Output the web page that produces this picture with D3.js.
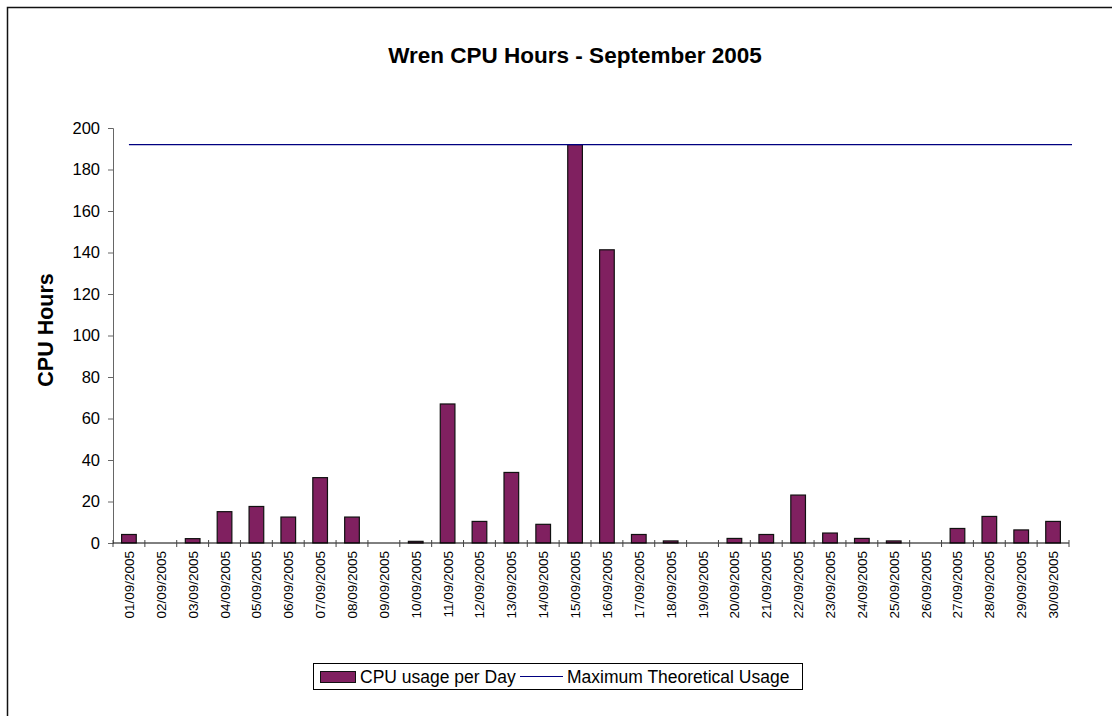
<!DOCTYPE html>
<html>
<head>
<meta charset="utf-8">
<script src="https://cdn.jsdelivr.net/npm/d3@7"></script>
<style>
	body { margin: 0; background: #fff; }
	svg { display: block; font-family: "Liberation Sans", Arial, sans-serif; }
</style>
</head>
<body>
<svg id="chart" width="1112" height="716"></svg>
<script>
// daily values
const days = ["01/09/2005","02/09/2005","03/09/2005","04/09/2005","05/09/2005","06/09/2005",
	"07/09/2005","08/09/2005","09/09/2005","10/09/2005","11/09/2005","12/09/2005",
	"13/09/2005","14/09/2005","15/09/2005","16/09/2005","17/09/2005","18/09/2005",
	"19/09/2005","20/09/2005","21/09/2005","22/09/2005","23/09/2005","24/09/2005",
	"25/09/2005","26/09/2005","27/09/2005","28/09/2005","29/09/2005","30/09/2005"];
const cpuHours = [4.1, 0, 2.1, 15.1, 17.6, 12.5, 31.5, 12.5, 0, 0.8, 67, 10.4,
	34, 9, 192, 141.3, 4.1, 1, 0, 2.2, 4.1, 23.1, 4.8, 2.2, 1, 0, 7, 12.8, 6.3, 10.4];
const maxUsage = days.map(() => 192);
const yTicks = [0,20,40,60,80,100,120,140,160,180,200];

const svg = d3.select("#chart");
let plotLeft = 113, plotRight = 1069, plotTop = 128, plotBottom = 543;

// outer chart frame (cut by the window at right/bottom)
svg.append("rect")
	.attr("x", 7.5).attr("y", 7.5)
	.attr("width", 1200).attr("height", 800)
	.attr("fill", "none").attr("stroke", "#111").attr("stroke-width", 1.5);

let x = d3.scaleBand().domain(days).range([plotLeft, plotRight]).paddingInner(0.54).paddingOuter(0.27);
let xc = d3.scaleBand().domain(days).range([plotLeft, plotRight]);
let y = d3.scaleLinear().domain([0, 200]).range([plotBottom, plotTop]);
// the max line runs a little past the last category, as in the original
let xLine = d3.scalePoint().domain(days).range([xc(days[0]) + xc.bandwidth() / 2, plotRight + 3]);

svg.append("text")
	.attr("x", 575).attr("y", 63)
	.attr("text-anchor", "middle")
	.attr("font-size", 22.5).attr("font-weight", "bold")
	.text("Wren CPU Hours - September 2005");

svg.append("text")
	.attr("transform", `translate(53,330) rotate(-90)`)
	.attr("text-anchor", "middle")
	.attr("font-size", 21.5).attr("font-weight", "bold")
	.text("CPU Hours");

// y axis
let gy = svg.append("g")
	.attr("transform", `translate(${plotLeft},0)`)
	.call(d3.axisLeft(y).tickValues(yTicks).tickSize(5).tickPadding(8));
gy.select(".domain").attr("stroke", "#666");
gy.selectAll(".tick line").attr("stroke", "#666");
gy.selectAll("text").attr("font-size", 16.5).attr("font-family", null).attr("fill", "#000");

// bars
svg.append("g")
	.selectAll("rect")
	.data(days)
	.join("rect")
	.attr("x", d => x(d))
	.attr("width", x.bandwidth())
	.attr("y", (d, i) => y(cpuHours[i]))
	.attr("height", (d, i) => y(0) - y(cpuHours[i]))
	.attr("fill", "#802060")
	.attr("stroke", "#111")
	.attr("stroke-width", 1.2);

// x axis
let gx = svg.append("g").attr("transform", `translate(0,${plotBottom})`);
gx.append("line").attr("x1", plotLeft).attr("x2", plotRight).attr("stroke", "#000");
gx.selectAll(".xt")
	.data(days.concat(["end"]))
	.join("line")
	.attr("class", "xt")
	.attr("x1", (d, i) => i < days.length ? xc(d) : plotRight)
	.attr("x2", (d, i) => i < days.length ? xc(d) : plotRight)
	.attr("y1", -3).attr("y2", 4)
	.attr("stroke", "#444");
gx.selectAll(".xl")
	.data(days)
	.join("text")
	.attr("class", "xl")
	.attr("transform", d => `translate(${xc(d) + xc.bandwidth() / 2 + 5},8) rotate(-90)`)
	.attr("text-anchor", "end")
	.attr("font-size", 13.5)
	.text(d => d);

// maximum line
let line = d3.line()
	.x((d, i) => xLine(days[i]))
	.y(d => y(d));
svg.append("path")
	.datum(maxUsage)
	.attr("d", line)
	.attr("fill", "none")
	.attr("stroke", "#000080")
	.attr("stroke-width", 1.2);

// legend
let lg = svg.append("g").attr("transform", "translate(313,663)");
lg.append("rect").attr("x", 0.5).attr("y", 0.5).attr("width", 489).attr("height", 26)
	.attr("fill", "#fff").attr("stroke", "#000");
lg.append("rect").attr("x", 7.5).attr("y", 8.5).attr("width", 35).attr("height", 11)
	.attr("fill", "#802060").attr("stroke", "#111");
lg.append("text").attr("x", 47).attr("y", 19.5).attr("font-size", 17.5).text("CPU usage per Day");
lg.append("line").attr("x1", 207).attr("x2", 250).attr("y1", 13.5).attr("y2", 13.5)
	.attr("stroke", "#000080").attr("stroke-width", 1.2);
lg.append("text").attr("x", 254).attr("y", 19.5).attr("font-size", 17.5).text("Maximum Theoretical Usage");
</script>
</body>
</html>
